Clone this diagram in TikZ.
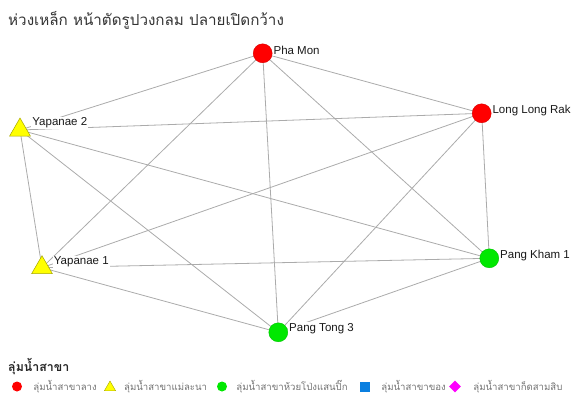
\documentclass[tikz,border=0pt]{standalone}
\usepackage{fontspec}
\setmainfont{Liberation Sans}
\newfontfamily\thaifont[Script=Thai]{Loma}
\usetikzlibrary{shapes.geometric,backgrounds,positioning}
\definecolor{linkgray}{HTML}{ABABAB}
\definecolor{sitered}{HTML}{FF0000}
\definecolor{sitegreen}{HTML}{00E800}
\definecolor{siteyellow}{HTML}{FFFF00}
\definecolor{siteblue}{HTML}{0A7FE0}
\definecolor{sitepink}{HTML}{FF00FF}
\tikzset{
  net/site/.style={circle, minimum size=19pt, inner sep=0pt},
  net/lang/.style={net/site, fill=sitered, draw=sitered!85!black, line width=0.4pt},
  net/lana/.style={regular polygon, regular polygon sides=3, minimum size=24pt,
    inner sep=0pt, fill=siteyellow, draw=siteyellow!65!black, line width=0.5pt},
  net/pong/.style={net/site, fill=sitegreen, draw=sitegreen!85!black, line width=0.4pt},
  net/name/.style={font=\fontsize{11.5}{13}\selectfont, text=black!90,
    fill=white, inner sep=1pt},
  net/link/.style={draw=linkgray, line width=0.8pt},
  key/text/.style={font=\thaifont\fontsize{9.6}{11}\selectfont, text=black!55,
    inner sep=1pt, anchor=west},
  key/dot/.style={circle, minimum size=10pt, inner sep=0pt}
}

\begin{document}
\begin{tikzpicture}[x=1pt, y=-1pt]
\useasboundingbox (0,0) rectangle (574,394);

\node (title) [anchor=west, inner sep=0pt, text=black!80,
  font=\thaifont\fontsize{15.2}{17}\selectfont] at (8,20)
  {ห่วงเหล็ก หน้าตัดรูปวงกลม ปลายเปิดกว้าง};

% --- sites
\node (phamon) [net/lang, label={[net/name, yshift=2.5pt]east:Pha Mon}] at (262.7,53.3) {};
\node (longrak) [net/lang, label={[net/name, yshift=3pt]east:Long Long Rak}] at (481.7,113.3) {};
\node (yap2) [net/lana, label={[net/name, xshift=4pt, yshift=7pt]east:Yapanae 2}] at (20,130) {};
\node (yap1) [net/lana, label={[net/name, xshift=3.5pt, yshift=6pt]east:Yapanae 1}] at (42,267.7) {};
\node (pangkham) [net/pong, label={[net/name, yshift=3pt]east:Pang Kham 1}] at (489.3,258.3) {};
\node (pangtong) [net/pong, label={[net/name, yshift=4pt]east:Pang Tong 3}] at (278.3,332.3) {};

% --- links
\begin{scope}[on background layer]
\foreach \a/\b in {phamon/longrak, phamon/yap2, phamon/yap1, phamon/pangtong,
    phamon/pangkham, longrak/yap2, longrak/yap1, longrak/pangkham, longrak/pangtong,
    yap2/yap1, yap2/pangkham, yap2/pangtong, yap1/pangkham, yap1/pangtong,
    pangkham/pangtong}
  \draw[net/link] (\a.center) -- (\b.center);
\end{scope}

% --- legend
\node (keytitle) [anchor=west, inner sep=0pt, text=black!85,
  font=\thaifont\bfseries\fontsize{12.4}{14}\selectfont] at (8,366.5) {ลุ่มน้ำสาขา};
\node (keylang) [key/dot, fill=sitered] at (17,386.5) {};
\node [key/text, right=10pt of keylang] {ลุ่มน้ำสาขาลาง};
\node (keylana) [regular polygon, regular polygon sides=3, minimum size=13pt, inner sep=0pt,
  fill=siteyellow, draw=siteyellow!65!black, line width=0.4pt] at (110,387.5) {};
\node [key/text, right=9pt of keylana, yshift=0.5pt] {ลุ่มน้ำสาขาแม่ละนา};
\node (keypong) [key/dot, fill=sitegreen] at (222,386.5) {};
\node [key/text, right=8pt of keypong] {ลุ่มน้ำสาขาห้วยโป่งแสนปิ๊ก};
\node (keykhong) [rectangle, minimum size=10pt, inner sep=0pt, fill=siteblue] at (365,386.5) {};
\node [key/text, right=10pt of keykhong] {ลุ่มน้ำสาขาของ};
\node (keykot) [diamond, minimum size=12pt, inner sep=0pt, fill=sitepink] at (455,386.5) {};
\node [key/text, right=11pt of keykot] {ลุ่มน้ำสาขาก็ดสามสิบ};

\end{tikzpicture}
\end{document}
